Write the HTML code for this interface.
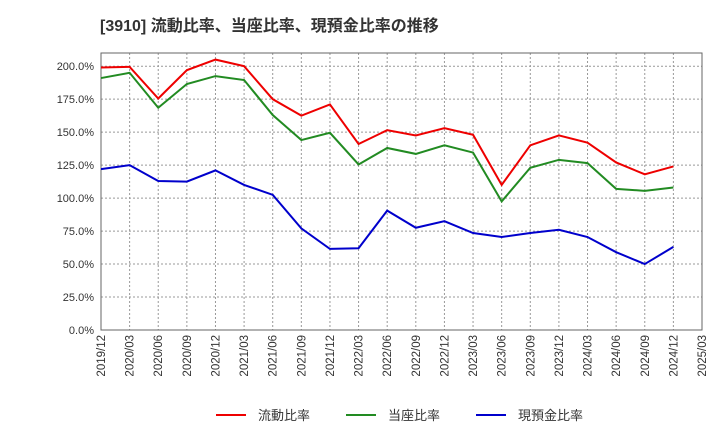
<!DOCTYPE html>
<html><head><meta charset="utf-8"><style>
body{margin:0;background:#fff;font-family:"Liberation Sans","Noto Sans CJK JP",sans-serif;}
svg text{font-family:"Liberation Sans","Noto Sans CJK JP",sans-serif;}
</style></head><body>
<svg id="chart" width="720" height="440" xmlns="http://www.w3.org/2000/svg">
<text x="100" y="31" font-size="16" font-weight="bold" fill="#333">[3910]  流動比率、当座比率、現預金比率の推移</text>
<g id="grid"></g><g id="axes"></g><g id="series"></g><g id="legend"></g>
</svg>
<script>
const categories=["2019/12","2020/03","2020/06","2020/09","2020/12","2021/03","2021/06","2021/09","2021/12","2022/03","2022/06","2022/09","2022/12","2023/03","2023/06","2023/09","2023/12","2024/03","2024/06","2024/09","2024/12","2025/03"];
const currentRatio=[199,199.5,175.5,197,205,200,175,162.5,171,141,151.5,147.5,153,148,110,140,147.5,142,127,118,124];
const quickRatio=[191,195,168.5,186.5,192.5,189.5,163,144,149.5,125.5,138,133.5,140,134.5,97.5,123,129,126.5,107,105.5,108];
const cashRatio=[122,125,113,112.5,121,110,102.5,77,61.5,62,90.5,77.5,82.5,73.5,70.5,73.5,76,70.5,59,50,63];
const yTicks=[0,25,50,75,100,125,150,175,200];
const seriesNames=["流動比率","当座比率","現預金比率"];
const colors=["#e00","#228b22","#00c"];
const L=101,R=702,T=53,B=330,YMAX=210;
const x=i=>L+(R-L)*i/(categories.length-1);
const y=v=>B-(B-T)*v/YMAX;
const NS="http://www.w3.org/2000/svg";
function mk(tag,attrs,parent){const e=document.createElementNS(NS,tag);for(const k in attrs)e.setAttribute(k,attrs[k]);document.getElementById(parent).appendChild(e);return e;}
yTicks.forEach(t=>{
 const g=mk("line",{x1:L,x2:R,y1:y(t),y2:y(t),stroke:"#999","stroke-dasharray":"2,2","stroke-width":1},"grid");
 
 
 const tx=mk("text",{x:L-7,y:y(t)+4,"text-anchor":"end","font-size":11,fill:"#333"},"axes");
 tx.textContent=t.toFixed(1)+"%";
 
 
});
categories.forEach((c,i)=>{
 const g=mk("line",{x1:x(i),x2:x(i),y1:T,y2:B,stroke:"#999","stroke-dasharray":"2,2","stroke-width":1},"grid");
 
 
 const tx=mk("text",{transform:`translate(${x(i)+4},${B+5}) rotate(-90)`,"text-anchor":"end","font-size":11.5,fill:"#333"},"axes");
 tx.textContent=c;
 
 
});
const frame=mk("rect",{x:L,y:T,width:R-L,height:B-T,fill:"none",stroke:"#666"},"axes");


[currentRatio,quickRatio,cashRatio].forEach((d,s)=>{
 const p=mk("polyline",{points:d.map((v,i)=>x(i)+","+y(v)).join(" "),fill:"none",stroke:colors[s],"stroke-width":2},"series");
 
 
});
const lx=[216,346,476];
seriesNames.forEach((n,s)=>{
 const l=mk("line",{x1:lx[s],x2:lx[s]+30,y1:415,y2:415,stroke:colors[s],"stroke-width":2},"legend");
 
 
 const t=mk("text",{x:lx[s]+42,y:420,"font-size":13,fill:"#333"},"legend");
 t.textContent=n;
 
 
});
</script>
</body></html>
